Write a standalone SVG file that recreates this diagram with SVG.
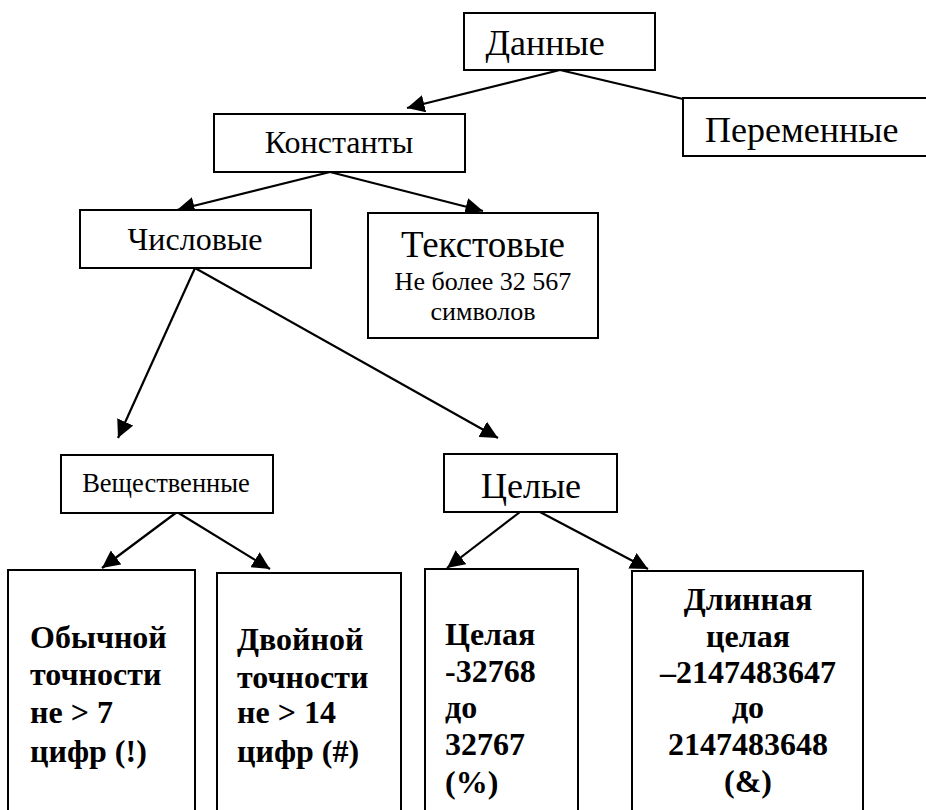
<svg xmlns="http://www.w3.org/2000/svg" width="926" height="810" viewBox="0 0 926 810">
<defs>
<style>
.box{fill:#fff;stroke:#000;stroke-width:2}
.b{font-weight:bold;font-size:32px}
.c line{stroke:#000;stroke-width:2.2}
</style>
<marker id="a" viewBox="0 0 10 10" refX="10" refY="5" markerWidth="8" markerHeight="8" orient="auto"><path d="M0,0 L10,5 L0,10 z" fill="#000"/></marker>
</defs>
<rect width="926" height="810" fill="#fff"/>
<g class="c">
<line x1="560" y1="70" x2="407" y2="108" marker-end="url(#a)"/>
<line x1="560" y1="70" x2="683" y2="99"/>
<line x1="330" y1="172" x2="177" y2="210" marker-end="url(#a)"/>
<line x1="330" y1="172" x2="483" y2="211" marker-end="url(#a)"/>
<line x1="195" y1="268" x2="118" y2="438" marker-end="url(#a)"/>
<line x1="195" y1="268" x2="498" y2="438" marker-end="url(#a)"/>
<line x1="177" y1="512" x2="102" y2="568" marker-end="url(#a)"/>
<line x1="177" y1="512" x2="270" y2="569" marker-end="url(#a)"/>
<line x1="520" y1="512" x2="447" y2="568" marker-end="url(#a)"/>
<line x1="540" y1="512" x2="648" y2="569" marker-end="url(#a)"/>
</g>
<g id="n-dannye"><rect class="box" x="464" y="13" width="191" height="57"/><text font-family="'Liberation Serif', serif" x="545" y="55" font-size="36" text-anchor="middle">Данные</text></g>
<g id="n-peremennye"><rect class="box" x="683" y="98" width="260" height="58"/><text font-family="'Liberation Serif', serif" x="705" y="142" font-size="36">Переменные</text></g>
<g id="n-konstanty"><rect class="box" x="214" y="114" width="251" height="58"/><text font-family="'Liberation Serif', serif" x="339" y="153" font-size="32" text-anchor="middle">Константы</text></g>
<g id="n-chislovye"><rect class="box" x="80" y="210" width="231" height="58"/><text font-family="'Liberation Serif', serif" x="195" y="250" font-size="32" text-anchor="middle">Числовые</text></g>
<g id="n-tekstovye"><rect class="box" x="368" y="213" width="230" height="125"/><text font-family="'Liberation Serif', serif" x="483" y="257" font-size="37" text-anchor="middle">Текстовые</text><text font-family="'Liberation Serif', serif" x="483" y="290" font-size="26" text-anchor="middle">Не более 32 567</text><text font-family="'Liberation Serif', serif" x="483" y="320" font-size="26" text-anchor="middle">символов</text></g>
<g id="n-veshchestvennye"><rect class="box" x="61" y="455" width="212" height="58"/><text font-family="'Liberation Serif', serif" x="166" y="492" font-size="26.5" text-anchor="middle">Вещественные</text></g>
<g id="n-tselye"><rect class="box" x="444" y="454" width="173" height="58"/><text font-family="'Liberation Serif', serif" x="531" y="498" font-size="36" text-anchor="middle">Целые</text></g>
<g id="n-obychnoy"><rect class="box" x="8" y="570" width="187" height="260"/><text font-family="'Liberation Serif', serif" class="b"><tspan x="30" y="648">Обычной</tspan><tspan x="30" y="685">точности</tspan><tspan x="30" y="723">не &gt; 7</tspan><tspan x="30" y="762">цифр (!)</tspan></text></g>
<g id="n-dvoynoy"><rect class="box" x="217" y="573" width="184" height="260"/><text font-family="'Liberation Serif', serif" class="b"><tspan x="237" y="650">Двойной</tspan><tspan x="237" y="688">точности</tspan><tspan x="237" y="723">не &gt; 14</tspan><tspan x="237" y="762">цифр (#)</tspan></text></g>
<g id="n-tselaya"><rect class="box" x="425" y="569" width="153" height="260"/><text font-family="'Liberation Serif', serif" class="b"><tspan x="445" y="645">Целая</tspan><tspan x="445" y="682">-32768</tspan><tspan x="445" y="718">до</tspan><tspan x="445" y="755">32767</tspan><tspan x="445" y="793">(%)</tspan></text></g>
<g id="n-dlinnaya"><rect class="box" x="632" y="571" width="231" height="260"/><text font-family="'Liberation Serif', serif" class="b" text-anchor="middle"><tspan x="748" y="610">Длинная</tspan><tspan x="748" y="647">целая</tspan><tspan x="748" y="683">–2147483647</tspan><tspan x="748" y="718">до</tspan><tspan x="748" y="755">2147483648</tspan><tspan x="748" y="792">(&amp;)</tspan></text></g>
</svg>
